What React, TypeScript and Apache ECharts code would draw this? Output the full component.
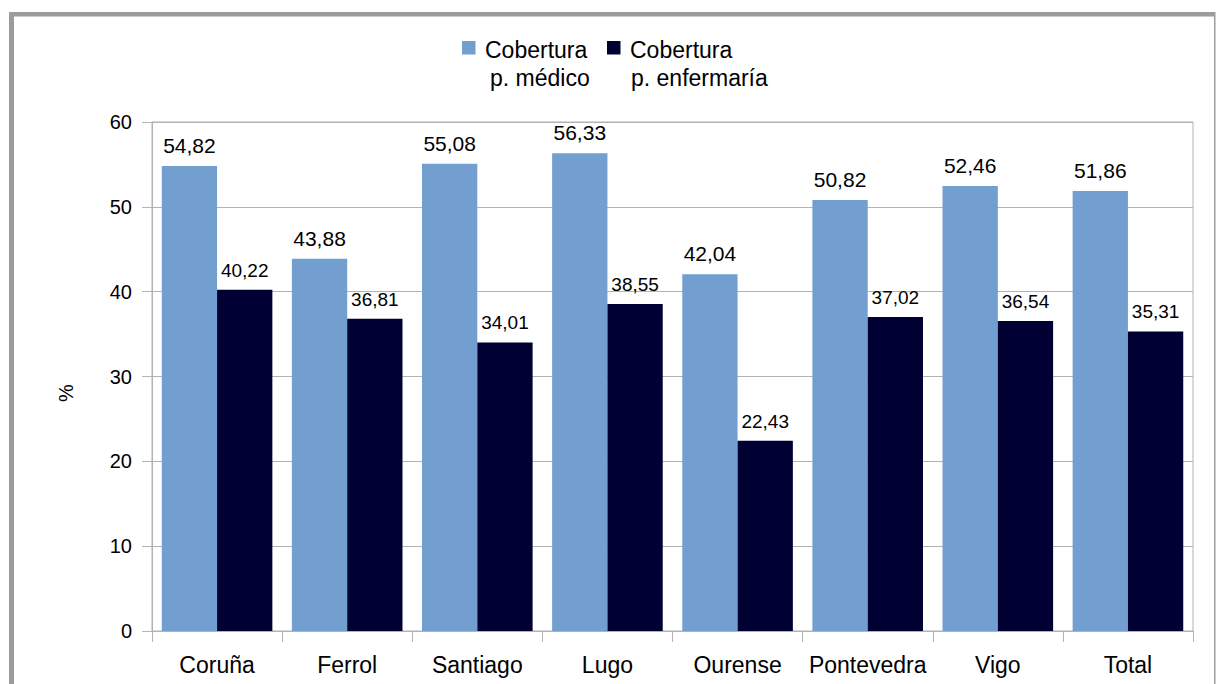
import React, { useEffect, useRef } from "react";
import * as echarts from "echarts";

const categories = ["Coruña", "Ferrol", "Santiago", "Lugo", "Ourense", "Pontevedra", "Vigo", "Total"];
const medico = [54.82, 43.88, 55.08, 56.33, 42.04, 50.82, 52.46, 51.86];
const enfermaria = [40.22, 36.81, 34.01, 38.55, 22.43, 37.02, 36.54, 35.31];
const yTicks = { min: 0, max: 60, interval: 10 };
const legendLines = [
  ["Cobertura", "p. médico"],
  ["Cobertura", "p. enfermaría"],
];
const axisName = "%";

const FONT = "'Liberation Sans', Arial, sans-serif";
const BLUE = "#729fcf";
const NAVY = "#000033";
const GRID = "#b3b3b3";
const FRAME = "#9c9c9c";

const fmt = (p: any) => Number(p.value).toFixed(2).replace(".", ",");

export default function App() {
  const ref = useRef<HTMLDivElement>(null);
  useEffect(() => {
    if (!ref.current) return;
    const chart = echarts.init(ref.current, undefined, { renderer: "svg" });
    chart.setOption({
      animation: false,
      backgroundColor: "#ffffff",
      textStyle: { fontFamily: FONT },
      grid: {
        left: 152,
        right: 23,
        top: 122,
        bottom: 53,
        show: true,
        borderColor: GRID,
        borderWidth: 1,
        backgroundColor: "transparent",
      },
      xAxis: {
        type: "category",
        data: categories,
        axisLine: { show: true, lineStyle: { color: GRID, width: 1 } },
        axisTick: { show: true, interval: 0, length: 11, lineStyle: { color: GRID, width: 1 } },
        axisLabel: { interval: 0, color: "#000", fontSize: 23, fontFamily: FONT, margin: 22 },
      },
      yAxis: {
        type: "value",
        min: yTicks.min,
        max: yTicks.max,
        interval: yTicks.interval,
        axisLine: { show: true, lineStyle: { color: GRID, width: 1 } },
        axisTick: { show: true, length: 10, lineStyle: { color: GRID, width: 1 } },
        axisLabel: { color: "#000", fontSize: 20, fontFamily: FONT, margin: 20 },
        splitLine: { show: true, lineStyle: { color: GRID, width: 1 } },
      },
      series: [
        {
          name: legendLines[0].join(" "),
          type: "bar",
          data: medico,
          barGap: "0%",
          barCategoryGap: "15%",
          itemStyle: { color: BLUE },
          label: {
            show: true,
            position: "top",
            distance: 10,
            formatter: fmt,
            color: "#000",
            fontSize: 21,
            fontFamily: FONT,
          },
        },
        {
          name: legendLines[1].join(" "),
          type: "bar",
          data: enfermaria,
          barGap: "0%",
          barCategoryGap: "15%",
          itemStyle: { color: NAVY },
          label: {
            show: true,
            position: "top",
            distance: 10,
            formatter: fmt,
            color: "#000",
            fontSize: 19,
            fontFamily: FONT,
          },
        },
      ],
      graphic: [
        { type: "rect", left: 9, top: 12, shape: { width: 5, height: 672 }, style: { fill: FRAME }, silent: true },
        { type: "rect", left: 9, top: 12, shape: { width: 1206, height: 4.5 }, style: { fill: FRAME }, silent: true },
        { type: "rect", left: 1214, top: 12, shape: { width: 1.5, height: 672 }, style: { fill: FRAME }, silent: true },
        { type: "rect", x: 462, y: 41, shape: { width: 13.5, height: 13.5 }, style: { fill: BLUE } },
        { type: "rect", x: 607, y: 41, shape: { width: 13.5, height: 13.5 }, style: { fill: NAVY } },
        { type: "text", x: 485, y: 50, style: { text: legendLines[0][0], font: `23px ${FONT}`, fill: "#000", verticalAlign: "middle" } },
        { type: "text", x: 490, y: 78, style: { text: legendLines[0][1], font: `23px ${FONT}`, fill: "#000", verticalAlign: "middle" } },
        { type: "text", x: 630, y: 50, style: { text: legendLines[1][0], font: `23px ${FONT}`, fill: "#000", verticalAlign: "middle" } },
        { type: "text", x: 631, y: 78, style: { text: legendLines[1][1], font: `23px ${FONT}`, fill: "#000", verticalAlign: "middle" } },
        {
          type: "text",
          x: 66,
          y: 393,
          rotation: Math.PI / 2,
          style: { text: axisName, font: `20px ${FONT}`, fill: "#000", align: "center", verticalAlign: "middle" },
        },
      ],
    });
    return () => chart.dispose();
  }, []);
  return <div ref={ref} style={{ position: "fixed", left: 0, top: 0, width: 1216, height: 684 }} />;
}
